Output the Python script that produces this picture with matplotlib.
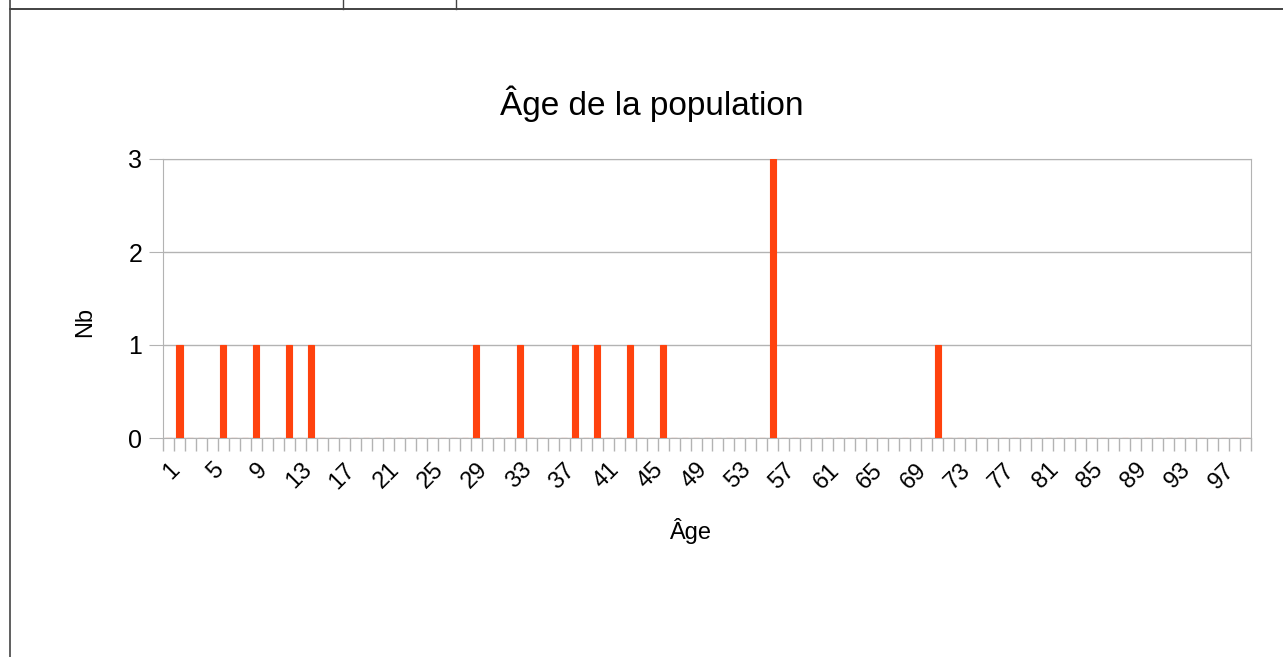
import numpy as np
import matplotlib.pyplot as plt
from matplotlib.lines import Line2D

# données
ages = list(range(1, 100))
ages_presents = [2, 6, 9, 12, 14, 29, 33, 38, 40, 43, 46, 56, 71]
effectifs = [1, 1, 1, 1, 1, 1, 1, 1, 1, 1, 1, 3, 1]
tick_labels = [str(a) for a in ages[::4]]

nb = [0] * len(ages)
for a, n in zip(ages_presents, effectifs):
    nb[ages.index(a)] = n

plt.rcParams['font.family'] = ['Liberation Sans', 'DejaVu Sans']

fig = plt.figure(figsize=(12.83, 6.57), dpi=100)
ax = fig.add_axes([163 / 1283, (657 - 438) / 657, (1251 - 163) / 1283, (438 - 159) / 657])

rouge = '#ff420e'
gris = '#b3b3b3'
x = np.arange(len(ages))
ax.bar(x, nb, width=0.55, color=rouge, edgecolor=rouge, linewidth=0.8, zorder=3)

ax.set_xlim(-0.5, len(ages) - 0.5)
ax.set_ylim(0, 3)
ax.set_yticks([0, 1, 2, 3])
ax.yaxis.grid(True, color=gris, linewidth=1)
ax.set_axisbelow(True)
for s in ax.spines.values():
    s.set_color(gris)

# graduations x entre les catégories
ax.set_xticks(np.arange(-0.5, len(ages), 1), minor=True)
ax.tick_params(axis='x', which='minor', length=9, color=gris, width=1)
ax.set_xticks(x[::4])
ax.set_xticklabels(tick_labels, rotation=45, ha='right', va='top', rotation_mode='anchor')
ax.tick_params(axis='x', which='major', length=0, labelsize=17, pad=15)
ax.tick_params(axis='y', length=10, color=gris, labelsize=18, pad=5)

fig.text(652 / 1283, 1 - 104 / 657, 'Âge de la population', fontsize=24,
         ha='center', va='center')
fig.text(690 / 1283, 1 - 531 / 657, 'Âge', fontsize=17, ha='center', va='center')
fig.text(85 / 1283, 1 - 322 / 657, 'Nb', fontsize=17, ha='center', va='center',
         rotation=90)

# bordures de cellules du tableur
fig.add_artist(Line2D([10 / 1283, 1], [1 - 9 / 657, 1 - 9 / 657], color='#222222', lw=1.2))
fig.add_artist(Line2D([10 / 1283, 10 / 1283], [0, 1], color='#444444', lw=1.2))
for px in (343, 456):
    fig.add_artist(Line2D([px / 1283, px / 1283], [1 - 9 / 657, 1], color='#444444', lw=1))

fig.savefig('out.png', dpi=100)
